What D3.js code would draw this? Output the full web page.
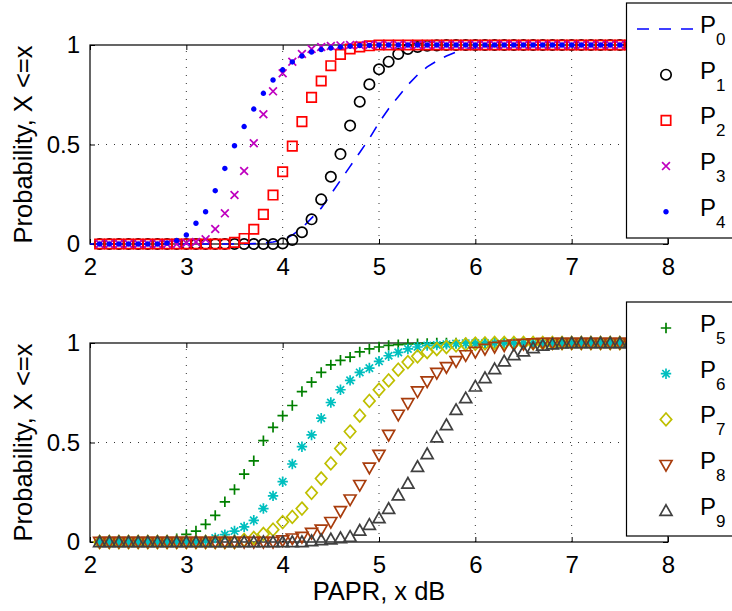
<!DOCTYPE html>
<html>
<head>
<meta charset="utf-8">
<script src="https://cdn.jsdelivr.net/npm/d3@7/dist/d3.min.js"></script>
<style>
  html, body { margin: 0; padding: 0; background: #fff; }
  svg { display: block; font-family: "Liberation Sans", Arial, Helvetica, sans-serif; }
</style>
</head>
<body>
<svg id="chart" width="732" height="611"></svg>
<script>
// PAPR sample points (dB) used by the marker series
const xMarks = [2.1,2.2,2.3,2.4,2.5,2.6,2.7,2.8,2.9,3.0,3.1,3.2,3.3,3.4,3.5,3.6,3.7,3.8,3.9,4.0,
  4.1,4.2,4.3,4.4,4.5,4.6,4.7,4.8,4.9,5.0,5.1,5.2,5.3,5.4,5.5,5.6,5.7,5.8,5.9,6.0,
  6.1,6.2,6.3,6.4,6.5,6.6,6.7,6.8,6.9,7.0,7.1,7.2,7.3,7.4,7.5,7.6];
// PAPR sample points for the dashed reference curve
const xLine = [2.0].concat(xMarks);

const xTicks = [2,3,4,5,6,7,8];
const yTicks = [0,0.5,1];
const yTickLabels = ["0","0.5","1"];

// Cumulative probabilities
const P0 = [0,0,0,0,0,0,0,0,0,0,0,0,0,0,0,0,0,
  0.002,0.005,0.01,0.02,0.045,0.08,0.13,0.18,0.25,0.32,0.39,0.46,0.53,0.61,0.68,0.74,0.80,0.85,0.89,0.92,0.945,0.965,0.977,0.986,0.992,0.995,0.998,
  1,1,1,1,1,1,1,1,1,1,1,1,1];
const P1 = [0,0,0,0,0,0,0,0,0,0,0,0,0,0,0,0,0,0,0,
  0.003,0.02,0.059,0.124,0.224,0.338,0.452,0.595,0.715,0.802,0.878,0.916,0.955,0.98,0.99,0.996,0.998,
  1,1,1,1,1,1,1,1,1,1,1,1,1,1,1,1,1,1,1,1];
const P2 = [0,0,0,0,0,0,0,0,0,0,0,0,0,0,
  0.008,0.028,0.074,0.149,0.246,0.363,0.492,0.615,0.737,0.819,0.896,0.953,0.98,0.99,0.996,
  1,1,1,1,1,1,1,1,1,1,1,1,1,1,1,1,1,1,1,1,1,1,1,1,1,1,1];
const P3 = [0,0,0,0,0,0,0,0,0,
  0.005,0.01,0.024,0.075,0.154,0.246,0.367,0.506,0.652,0.767,0.858,0.916,0.955,0.98,0.99,0.995,0.998,
  1,1,1,1,1,1,1,1,1,1,1,1,1,1,1,1,1,1,1,1,1,1,1,1,1,1,1,1,1,1];
const P4 = [0,0,0,0,0,0,0,
  0.005,0.017,0.045,0.104,0.162,0.268,0.38,0.494,0.59,0.678,0.757,0.824,0.875,0.915,0.945,0.965,0.977,0.985,0.99,0.994,0.997,0.998,
  1,1,1,1,1,1,1,1,1,1,1,1,1,1,1,1,1,1,1,1,1,1,1,1,1,1,1];
const P5 = [0,0,0,0,0,0,0,
  0.007,0.017,0.038,0.055,0.089,0.134,0.202,0.264,0.341,0.408,0.509,0.576,0.635,0.686,0.756,0.803,0.852,0.89,0.913,0.929,0.955,0.97,0.98,0.988,0.992,0.995,0.997,0.998,
  1,1,1,1,1,1,1,1,1,1,1,1,1,1,1,1,1,1,1,1,1];
const P6 = [0,0,0,0,0,0,0,0,0,0,0,
  0.005,0.02,0.037,0.055,0.076,0.109,0.168,0.232,0.303,0.392,0.479,0.538,0.622,0.701,0.765,0.812,0.852,0.874,0.908,0.936,0.953,0.97,0.98,0.987,0.99,0.994,0.997,0.999,
  1,1,1,1,1,1,1,1,1,1,1,1,1,1,1,1,1];
const P7 = [0,0,0,0,0,0,0,0,0,0,0,0,0,0,0,
  0.01,0.02,0.04,0.062,0.1,0.126,0.168,0.247,0.319,0.395,0.47,0.555,0.635,0.709,0.765,0.812,0.866,0.904,0.933,0.955,0.97,0.98,0.988,0.993,0.996,0.998,
  1,1,1,1,1,1,1,1,1,1,1,1,1,1,1];
const P8 = [0,0,0,0,0,0,0,0,0,0,0,0,0,0,0,0,0,0,0,
  0.008,0.017,0.025,0.045,0.062,0.1,0.155,0.213,0.286,0.373,0.437,0.538,0.639,0.697,0.756,0.807,0.849,0.878,0.908,0.938,0.955,0.97,0.98,0.987,0.992,0.995,0.998,
  1,1,1,1,1,1,1,1,1,1];
const P9 = [0,0,0,0,0,0,0,0,0,0,0,0,0,0,0,0,0,0,0,0,0,0,
  0.005,0.01,0.014,0.02,0.027,0.058,0.087,0.12,0.167,0.235,0.294,0.378,0.442,0.526,0.588,0.664,0.723,0.782,0.824,0.869,0.908,0.94,0.958,0.975,0.987,0.994,0.998,
  1,1,1,1,1,1,1];

const topNames = ["0","1","2","3","4"];
const botNames = ["5","6","7","8","9"];

// marker shapes, centred on (0,0)
const shapes = {
  circle: "M-5.2,0a5.2,5.2 0 1,0 10.4,0a5.2,5.2 0 1,0 -10.4,0",
  square: "M-4.7,-4.7H4.7V4.7H-4.7Z",
  cross: "M-3.9,-3.9L3.9,3.9M-3.9,3.9L3.9,-3.9",
  dot: "M-1.9,0a1.9,1.9 0 1,0 3.8,0a1.9,1.9 0 1,0 -3.8,0",
  plus: "M-5.2,0H5.2M0,-5.2V5.2",
  star: "M-5.2,0H5.2M0,-5.2V5.2M-3.7,-3.7L3.7,3.7M-3.7,3.7L3.7,-3.7",
  diamond: "M0,-6.4L5.7,0L0,6.4L-5.7,0Z",
  triDown: "M-6,-4.6H6L0,6Z",
  triUp: "M0,-6L6,4.6H-6Z"
};

const topSeries = [
  {vals: P1, shape: "circle", color: "#000000", fill: "none"},
  {vals: P2, shape: "square", color: "#ff0000", fill: "none"},
  {vals: P3, shape: "cross", color: "#bf00bf", fill: "none"},
  {vals: P4, shape: "dot", color: "#0000ff", fill: "#0000ff"}
];
const botSeries = [
  {vals: P5, shape: "plus", color: "#008000", fill: "none"},
  {vals: P6, shape: "star", color: "#00bfbf", fill: "none"},
  {vals: P7, shape: "diamond", color: "#bfbf00", fill: "none"},
  {vals: P8, shape: "triDown", color: "#a83c0c", fill: "none"},
  {vals: P9, shape: "triUp", color: "#404040", fill: "none"}
];

const svg = d3.select("#chart");
const x = d3.scaleLinear().domain([2, 8]).range([90, 668]);

function panel(yRange, label) {
  const y = d3.scaleLinear().domain([0, 1]).range(yRange);
  const g = svg.append("g");

  // dotted grid
  g.append("g").selectAll("line").data(xTicks.slice(1, -1)).join("line")
    .attr("x1", d => x(d)).attr("x2", d => x(d))
    .attr("y1", y(0)).attr("y2", y(1))
    .attr("stroke", "#333").attr("stroke-width", 1).attr("stroke-dasharray", "1,7");
  g.append("g").selectAll("line").data([0.5]).join("line")
    .attr("x1", x(2)).attr("x2", x(8))
    .attr("y1", d => y(d)).attr("y2", d => y(d))
    .attr("stroke", "#333").attr("stroke-width", 1).attr("stroke-dasharray", "1,7");

  // axes with inward ticks
  const ax = d3.axisBottom(x).tickValues(xTicks).tickFormat(d3.format("d"))
    .tickSizeInner(-5).tickSizeOuter(0).tickPadding(14);
  const axTop = d3.axisTop(x).tickValues(xTicks).tickFormat("")
    .tickSizeInner(-5).tickSizeOuter(0);
  const ay = d3.axisLeft(y).tickValues(yTicks).tickFormat((d, i) => yTickLabels[i])
    .tickSizeInner(-5).tickSizeOuter(0).tickPadding(10);
  const ayR = d3.axisRight(y).tickValues(yTicks).tickFormat("")
    .tickSizeInner(-5).tickSizeOuter(0);

  [[ax, `translate(0,${y(0)})`], [axTop, `translate(0,${y(1)})`],
   [ay, `translate(${x(2)},0)`], [ayR, `translate(${x(8)},0)`]].forEach(([a, t]) => {
    const gg = g.append("g").attr("transform", t).call(a);
    gg.select(".domain").remove();
    gg.selectAll(".tick line").attr("stroke", "#000");
    gg.selectAll("text").attr("font-size", 24).attr("fill", "#000")
      .attr("font-family", "'Liberation Sans', Arial, sans-serif");
  });

  g.append("rect").attr("x", x(2)).attr("y", y(1))
    .attr("width", x(8) - x(2)).attr("height", y(0) - y(1))
    .attr("fill", "none").attr("stroke", "#000").attr("stroke-width", 1.2);

  g.append("text")
    .attr("transform", `translate(32,${(y(0) + y(1)) / 2}) rotate(-90)`)
    .attr("text-anchor", "middle").attr("font-size", 25.5).attr("fill", "#000")
    .text(label);
  return {g, y};
}

function drawMarkers(g, y, s) {
  g.append("g").selectAll("path").data(xMarks.map((d, i) => [d, s.vals[i]])).join("path")
    .attr("transform", d => `translate(${x(d[0])},${y(d[1])})`)
    .attr("d", shapes[s.shape])
    .attr("fill", s.fill).attr("stroke", s.color).attr("stroke-width", 1.7);
}

function legend(boxTop, boxHeight, entries) {
  const lg = svg.append("g");
  lg.append("rect").attr("x", 626.5).attr("y", boxTop).attr("width", 120).attr("height", boxHeight)
    .attr("fill", "#fff").attr("stroke", "#000").attr("stroke-width", 1.2);
  entries.forEach((e, i) => {
    const cy = boxTop + 26 + i * 45.7;
    if (e.line) {
      lg.append("line").attr("x1", 637).attr("x2", 693).attr("y1", cy).attr("y2", cy)
        .attr("stroke", e.color).attr("stroke-width", 1.6).attr("stroke-dasharray", "12,10");
    } else {
      lg.append("path").attr("transform", `translate(666,${cy})`).attr("d", shapes[e.shape])
        .attr("fill", e.fill).attr("stroke", e.color).attr("stroke-width", 1.7);
    }
    const t = lg.append("text").attr("x", 700).attr("y", cy + 4).attr("font-size", 24).attr("fill", "#000");
    t.append("tspan").text("P");
    t.append("tspan").attr("font-size", 17).attr("dy", 12).text(e.name);
  });
}

// upper panel
const upper = panel([244, 45], "Probability, X <=x");
upper.g.append("path")
  .datum(xLine.map((d, i) => [d, P0[i]]))
  .attr("d", d3.line().x(d => x(d[0])).y(d => upper.y(d[1])))
  .attr("fill", "none").attr("stroke", "#0000ff").attr("stroke-width", 1.6)
  .attr("stroke-dasharray", "12,10");
topSeries.forEach(s => drawMarkers(upper.g, upper.y, s));

// lower panel
const lower = panel([542, 343], "Probability, X <=x");
botSeries.forEach(s => drawMarkers(lower.g, lower.y, s));

svg.append("text").attr("x", 379).attr("y", 600).attr("text-anchor", "middle")
  .attr("font-size", 25.5).attr("fill", "#000").text("PAPR, x dB");

legend(3, 235, [{line: true, color: "#0000ff", name: topNames[0]}]
  .concat(topSeries.map((s, i) => Object.assign({name: topNames[i + 1]}, s))));
legend(302, 234, botSeries.map((s, i) => Object.assign({name: botNames[i]}, s)));
</script>
</body>
</html>
